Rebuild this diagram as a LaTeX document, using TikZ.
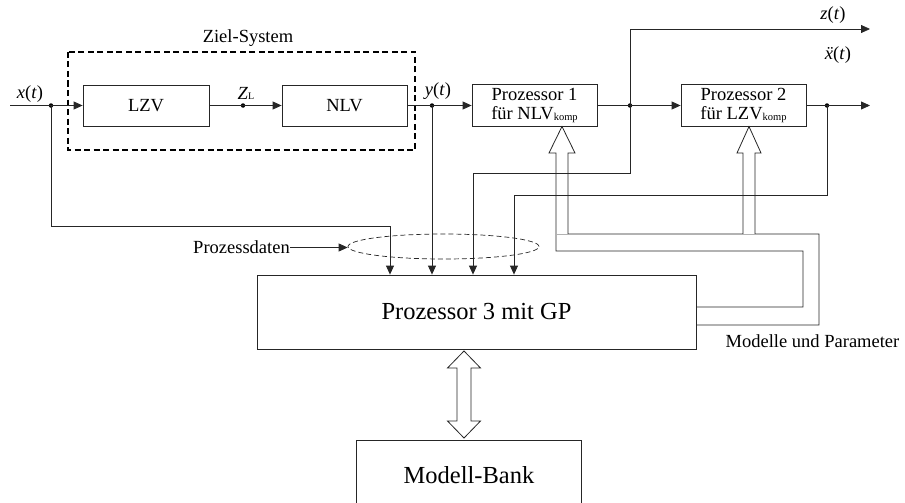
\documentclass[tikz,border=0pt]{standalone}
\usepackage{fontspec}
\setmainfont{Liberation Serif}
\usetikzlibrary{arrows.meta,shapes.geometric}
\newcommand\kmp{\raisebox{-1.2pt}{\fontsize{10.5}{11}\selectfont komp}}
\begin{document}
\begin{tikzpicture}[x=1pt,y=-1pt,
  ln/.style={line width=0.8pt,draw=black!85},
  arr/.style={ln,-{Triangle[length=9pt,width=8pt]}},
  blk/.style={draw=black!85,line width=0.8pt,rectangle,inner sep=0pt,align=center,
    font=\fontsize{18.5}{19.5}\selectfont},
  dot/.style={circle,fill=black,inner sep=0pt,minimum size=4.5pt},
  lbl/.style={inner sep=0pt,font=\fontsize{18.5}{20}\selectfont},
]
\useasboundingbox (0,0) rectangle (905,503);

% target system
\draw[line width=1.6pt,dash pattern=on 6pt off 3.5pt] (68,52) rectangle (415,150);
\node[lbl] (ziel) at (248,38) {Ziel-System};

% blocks
\node[blk,minimum width=126pt,minimum height=41pt] (lzv) at (146,105.5) {LZV};
\node[blk,minimum width=125pt,minimum height=41pt] (nlv) at (344.5,105.5) {NLV};
\node[blk,minimum width=125pt,minimum height=42pt] (p1) at (534.5,105.5) {Prozessor 1\\für NLV\kmp};
\node[blk,minimum width=125pt,minimum height=42pt] (p2) at (743.5,105.5) {Prozessor 2\\für LZV\kmp};
\node[blk,minimum width=439pt,minimum height=74pt,font=\fontsize{24.5}{26}\selectfont] (p3) at (476.5,312) {Prozessor 3 mit GP};
\node[inner sep=0pt,minimum width=224pt,minimum height=68pt,font=\fontsize{24.5}{26}\selectfont] (mb) at (469,475) {Modell-Bank};
\draw[ln] (mb.south west) -- (mb.north west) -- (mb.north east) -- (mb.south east);

% dots
\node[dot] (d1) at (51,105.5) {};
\node[dot] (dz) at (243,105.5) {};
\node[dot] (dy) at (432,105.5) {};
\node[dot] (dp1) at (630,105.5) {};
\node[dot] (dp2) at (827,105.5) {};

% main signal path
\coordinate (xin) at (10,105.5);
\coordinate (out2) at (870,105.5);
\coordinate (zout) at (870,29);
\draw[arr] (xin) -- (lzv.west);
\draw[arr] (lzv.east) -- (nlv.west);
\draw[arr] (nlv.east) -- (p1.west);
\draw[arr] (p1.east) -- (p2.west);
\draw[arr] (p2.east) -- (out2);
\draw[arr] (dp1.center) |- (zout);

% labels
\node[lbl] (lx) at (30,94) {\textit{x}(\textit{t})};
\node[lbl] (lzl) at (246,93) {\textit{Z}{\fontsize{10}{10}\selectfont L}};
\node[lbl] (ly) at (438,91) {\textit{y}(\textit{t})};
\node[lbl] (lz) at (833,15) {\textit{z}(\textit{t})};
\node[lbl] (lxx) at (838,55) {\textit{\"x}(\textit{t})};

% branches to processor 3
\coordinate (c1) at (390,226);
\coordinate (c3) at (473,173);
\coordinate (c4) at (514,195);
\draw[arr] (d1.center) |- (c1) -- (c1 |- p3.north);
\draw[arr] (dy.center) -- (dy |- p3.north);
\draw[arr] (dp1.center) |- (c3) -- (c3 |- p3.north);
\draw[arr] (dp2.center) |- (c4) -- (c4 |- p3.north);

% process data
\node[draw=black!85,line width=0.7pt,dash pattern=on 5pt off 3pt,ellipse,inner sep=0pt,
  minimum width=191pt,minimum height=25pt] (ell) at (443.5,246.5) {};
\node[lbl,anchor=east] (pd) at (290,247.5) {Prozessdaten};
\draw[arr] (pd.east) -- (pd.east -| ell.west);

% models and parameters pipe
\draw[ln] (p3.east |- 0,307) -- (803,307) -- (803,251) -- (556,251) -- (556,153)
  -- (549,153) -- (562,126.5) -- (575,153) -- (568,153) -- (568,234) -- (743,234)
  -- (743,153) -- (737,153) -- (749,126.5) -- (761,153) -- (755,153) -- (755,234)
  -- (819,234) -- (819,325) -- (p3.east |- 0,325);
\draw[line width=0.8pt,black!30] (556,234) -- (568,234) (743,234) -- (755,234);
\node[lbl] (mp) at (812.5,341) {Modelle und Parameter};

% double arrow to model bank
\draw[ln] (464,351) -- (480.5,368) -- (471,368) -- (471,421) -- (480.5,421) -- (464,438)
  -- (447.5,421) -- (457,421) -- (457,368) -- (447.5,368) -- cycle;
\end{tikzpicture}
\end{document}
